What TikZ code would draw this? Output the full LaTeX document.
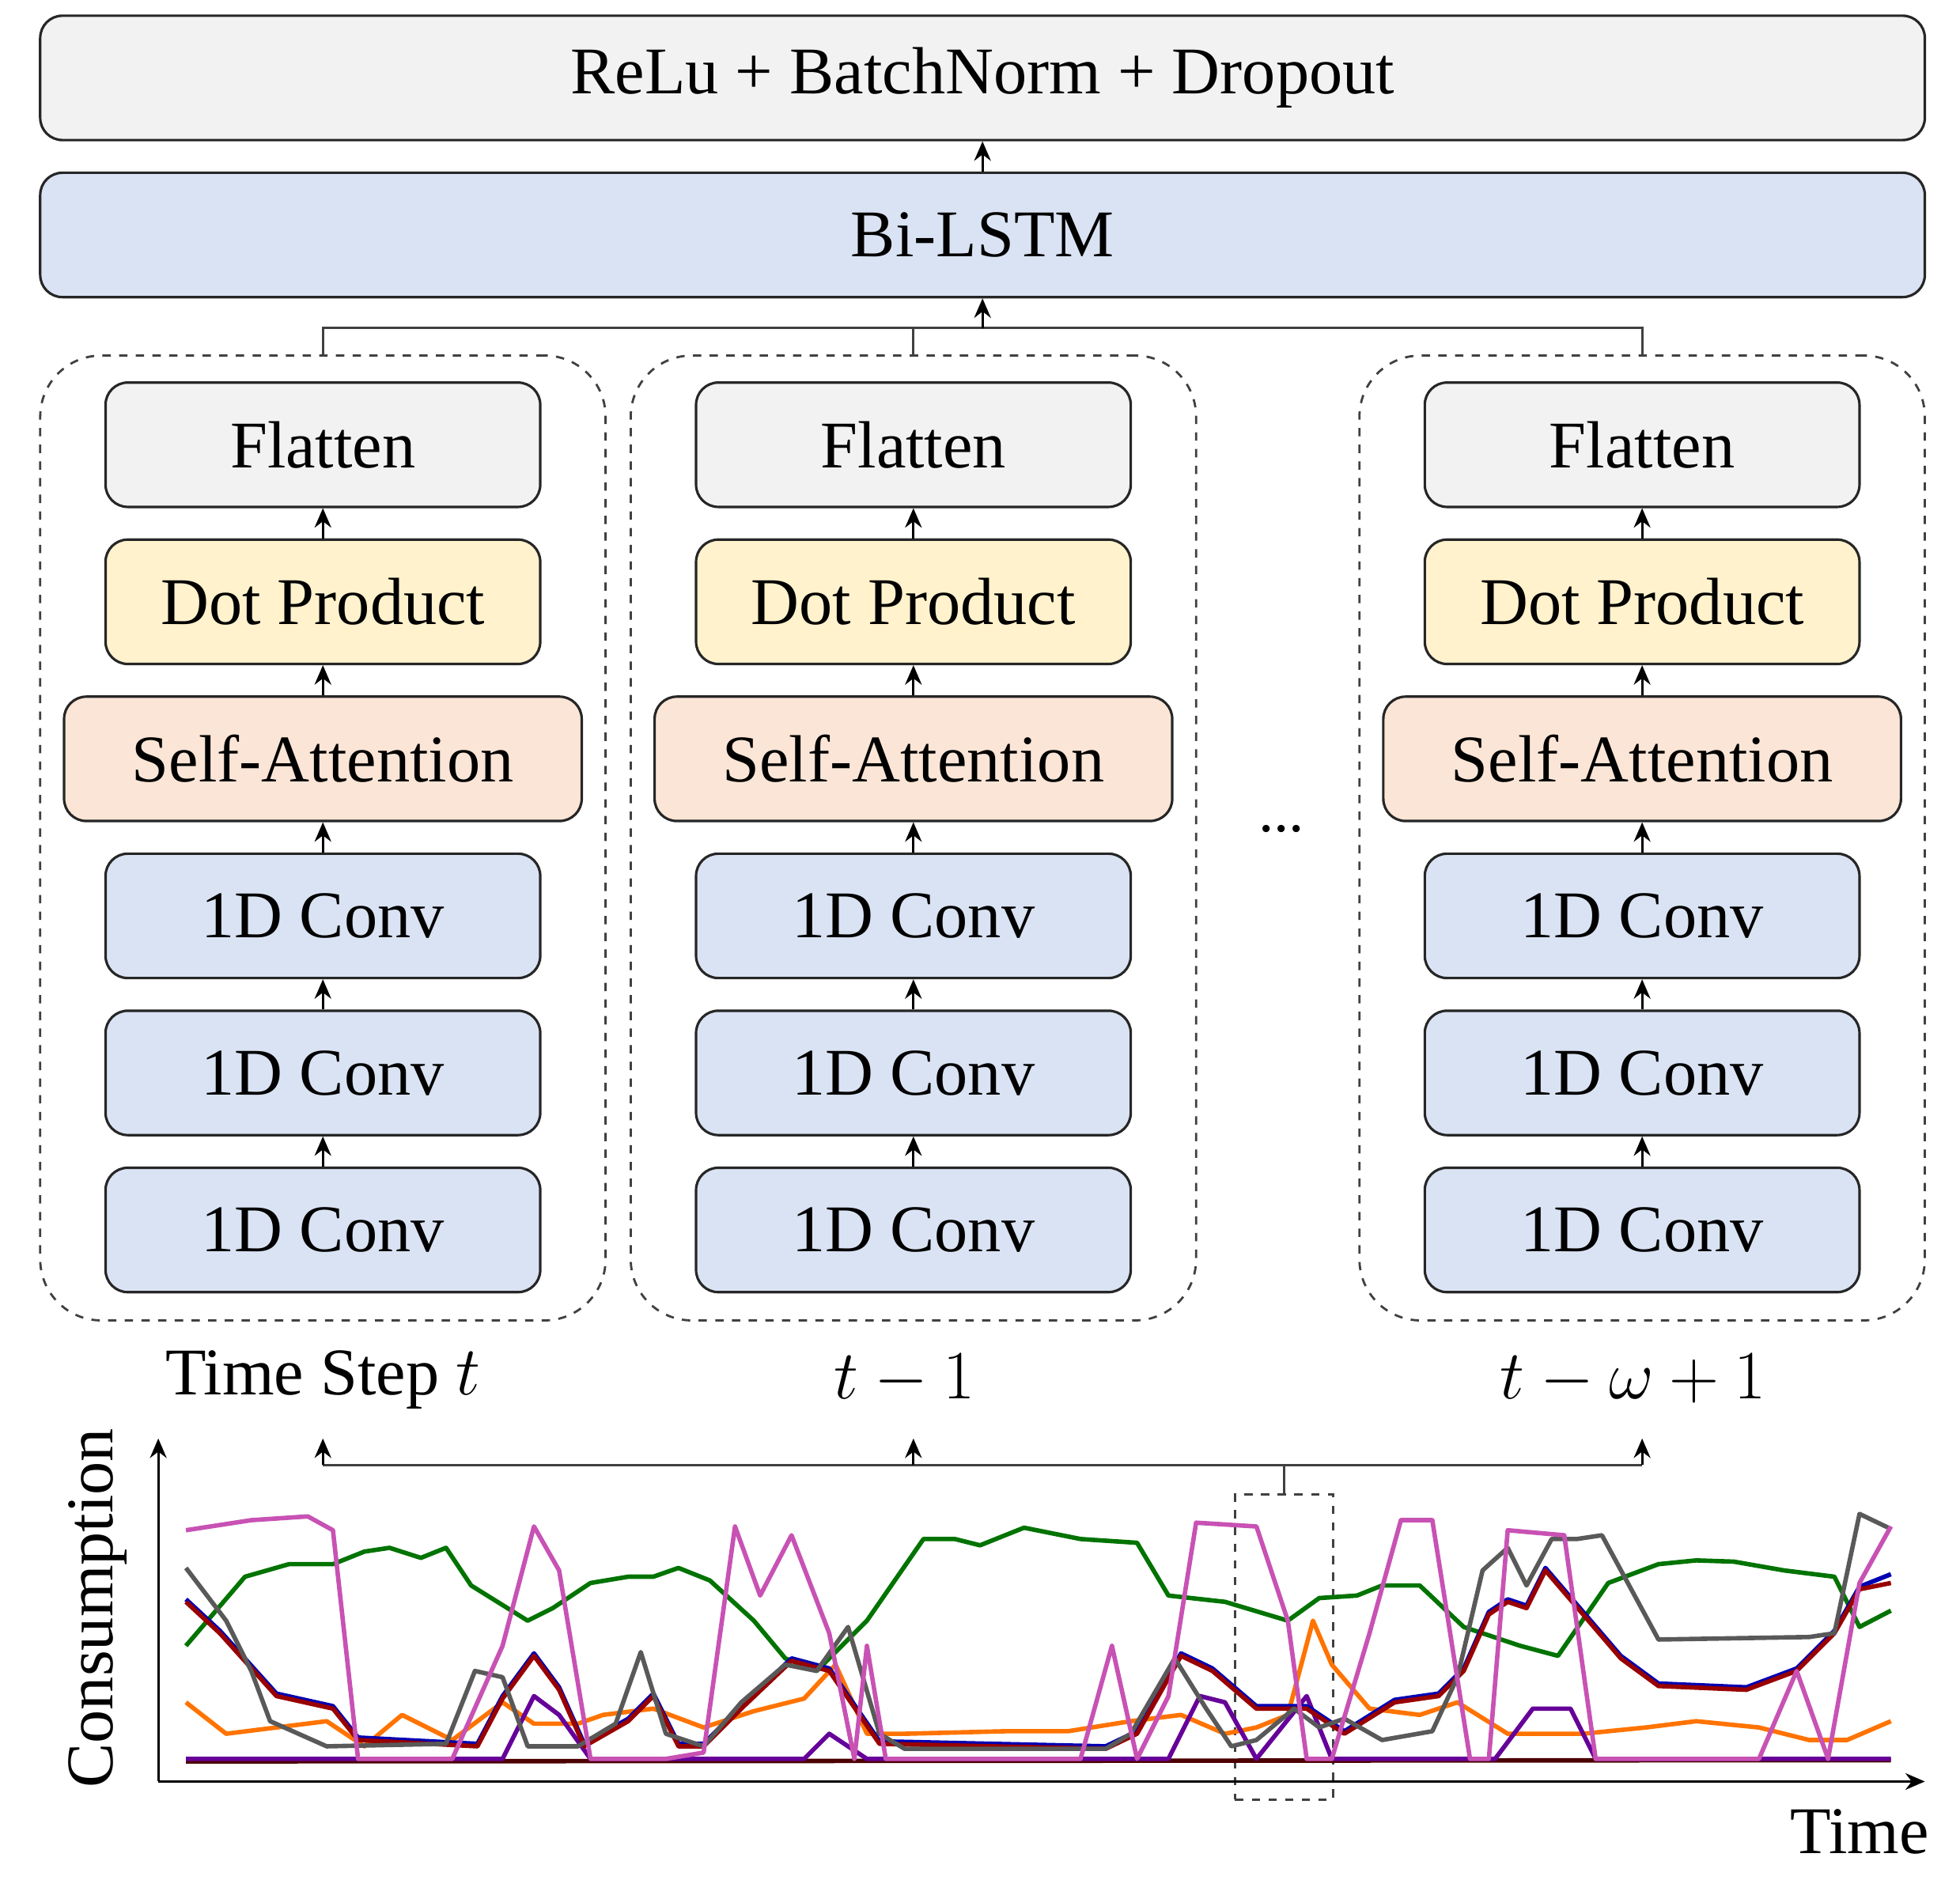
\documentclass[tikz,border=0pt]{standalone}
\usepackage{fontspec}
\setmainfont{Liberation Serif}
\usetikzlibrary{arrows.meta}
\begin{document}
\begin{tikzpicture}[x=0.01588cm,y=-0.01588cm,
  box/.style={draw=black!85,line width=0.9pt,rounded corners=8pt,font=\fontsize{24}{28}\selectfont},
  arr/.style={-{Stealth[length=7pt,width=6pt]},line width=0.8pt},
  ln/.style={line width=0.8pt,draw=black!75},
  grp/.style={draw=black!75,dashed,line width=0.8pt,rounded corners=22pt},
  cl/.style={line width=1.6pt,line join=round}]
\useasboundingbox (0,0) rectangle (1560,1496);
\definecolor{cg}{HTML}{F2F2F2}\definecolor{cy}{HTML}{FFF2CC}
\definecolor{co}{HTML}{FBE5D6}\definecolor{cb}{HTML}{DAE3F3}
\definecolor{mg}{HTML}{C852B4}
\node[box,fill=cg,minimum width={1500*0.01588cm},minimum height={99*0.01588cm}] (top) at (782,62) {ReLu + BatchNorm + Dropout};
\node[box,fill=cb,minimum width={1500*0.01588cm},minimum height={99*0.01588cm}] (lstm) at (782,187) {Bi-LSTM};
\draw[arr] (lstm.north) -- (top.south);
\foreach \n/\cx in {a/257,b/727,c/1307}{
  \node[grp,minimum width={450*0.01588cm},minimum height={768*0.01588cm}] (g\n) at (\cx,667) {};
  \node[box,fill=cg,minimum width={346*0.01588cm},minimum height={99*0.01588cm}] (f\n) at (\cx,354) {Flatten};
  \node[box,fill=cy,minimum width={346*0.01588cm},minimum height={99*0.01588cm}] (d\n) at (\cx,479) {Dot Product};
  \node[box,fill=co,minimum width={412*0.01588cm},minimum height={99*0.01588cm}] (s\n) at (\cx,604) {Self-Attention};
  \node[box,fill=cb,minimum width={346*0.01588cm},minimum height={99*0.01588cm}] (ca\n) at (\cx,729) {1D Conv};
  \node[box,fill=cb,minimum width={346*0.01588cm},minimum height={99*0.01588cm}] (cb\n) at (\cx,854) {1D Conv};
  \node[box,fill=cb,minimum width={346*0.01588cm},minimum height={99*0.01588cm}] (cc\n) at (\cx,979) {1D Conv};
  \draw[arr] (cc\n) -- (cb\n); \draw[arr] (cb\n) -- (ca\n); \draw[arr] (ca\n) -- (s\n);
  \draw[arr] (s\n) -- (d\n); \draw[arr] (d\n) -- (f\n);
  \coordinate (u\n) at (\cx,1145);
}
\coordinate (j) at (782,261);
\draw[ln] (ga.north) -- (257,261) -- (1307,261) -- (gc.north);
\draw[ln] (gb.north) -- (727,261);
\draw[arr] (j) -- (lstm.south);
\node[font=\fontsize{22}{26}\selectfont] (dots) at (1020,660) {...};
\node[font=\fontsize{24}{28}\selectfont] (la) at (257,1098) {Time Step $t$};
\node[font=\fontsize{24}{28}\selectfont] (lb) at (720,1098) {$t-1$};
\node[font=\fontsize{24}{28}\selectfont] (lc) at (1300,1098) {$t-\omega+1$};
% bottom
\coordinate (h1) at (257,1166); \coordinate (h3) at (1307,1166);
\draw[ln] (h1) -- (h3);
\draw[arr] (h1) -- (ua); \draw[arr] (727,1166) -- (ub); \draw[arr] (h3) -- (uc);
\node[draw=black!75,dashed,line width=0.8pt,minimum width={78*0.01588cm},minimum height={243*0.01588cm},inner sep=0] (win) at (1022,1311) {};
\draw[ln] (1022,1166) -- (win.north);
\coordinate (o) at (126,1418);
\coordinate (ye) at (126,1145); \coordinate (xe) at (1532,1418);
\draw[arr] (o) -- (ye); \draw[arr] (o) -- (xe);
\node[rotate=90,font=\fontsize{24}{28}\selectfont] (yl) at (78,1280) {Consumption};
\node[font=\fontsize{24}{28}\selectfont] (xl) at (1480,1458) {Time};
% series
\draw[cl,color=black!70!red] (148,1402) -- (1505,1401);
\draw[cl,color=orange!90!red] plot coordinates {(148,1355)(180,1380)(260,1370)(290,1390)(320,1365)(360,1385)(400,1355)(425,1372)(460,1372)(480,1365)(520,1360)(560,1375)(600,1362)(640,1352)(665,1325)(690,1380)(720,1380)(800,1378)(850,1378)(900,1370)(940,1365)(975,1380)(1000,1375)(1025,1365)(1045,1290)(1060,1325)(1090,1360)(1130,1365)(1160,1355)(1200,1380)(1260,1380)(1310,1375)(1350,1370)(1400,1375)(1440,1385)(1470,1385)(1505,1370)};
\draw[cl,color=violet!80!blue] plot coordinates {(148,1400)(400,1400)(425,1350)(445,1365)(470,1400)(640,1400)(660,1380)(690,1400)(930,1400)(955,1350)(975,1355)(1000,1400)(1040,1350)(1060,1400)(1190,1400)(1220,1360)(1250,1360)(1270,1400)(1505,1400)};
\draw[cl,color=green!45!black] plot coordinates {(148,1310)(195,1255)(230,1245)(265,1245)(290,1235)(310,1232)(335,1240)(355,1232)(375,1262)(420,1290)(440,1280)(470,1260)(500,1255)(520,1255)(540,1248)(565,1258)(600,1290)(625,1320)(650,1330)(690,1290)(735,1225)(760,1225)(780,1230)(815,1216)(860,1225)(905,1228)(930,1270)(975,1275)(1025,1290)(1050,1272)(1080,1270)(1100,1262)(1130,1262)(1165,1295)(1210,1310)(1240,1318)(1280,1260)(1320,1245)(1350,1242)(1380,1243)(1420,1250)(1460,1255)(1480,1295)(1505,1282)};
\draw[cl,color=blue!70!black,shift={(0,-2)}] plot coordinates {(148,1275)(175,1300)(220,1350)(265,1360)(285,1385)(380,1390)(400,1352)(425,1318)(445,1345)(465,1390)(500,1370)(520,1350)(540,1390)(560,1390)(590,1360)(630,1322)(660,1330)(700,1388)(880,1392)(905,1380)(940,1318)(965,1330)(1000,1360)(1040,1360)(1070,1380)(1110,1355)(1145,1350)(1165,1330)(1185,1285)(1200,1275)(1215,1280)(1230,1250)(1260,1285)(1290,1320)(1320,1342)(1390,1345)(1430,1330)(1460,1300)(1480,1265)(1505,1255)};
\draw[cl,color=red!60!black] plot coordinates {(148,1275)(175,1300)(220,1350)(265,1360)(285,1385)(380,1390)(400,1352)(425,1318)(445,1345)(465,1390)(500,1370)(520,1350)(540,1390)(560,1390)(590,1360)(630,1322)(660,1330)(700,1388)(880,1392)(905,1380)(940,1318)(965,1330)(1000,1360)(1040,1360)(1070,1380)(1110,1355)(1145,1350)(1165,1330)(1185,1285)(1200,1275)(1215,1280)(1230,1250)(1260,1285)(1290,1320)(1320,1342)(1390,1345)(1430,1330)(1460,1300)(1480,1265)(1505,1260)};
\draw[cl,color=black!65] plot coordinates {(148,1248)(180,1290)(200,1330)(215,1370)(260,1390)(355,1388)(378,1330)(400,1335)(420,1390)(460,1390)(490,1372)(510,1315)(530,1380)(560,1390)(590,1355)(625,1325)(650,1330)(675,1295)(700,1380)(720,1392)(880,1392)(900,1380)(935,1320)(960,1360)(980,1390)(1000,1385)(1030,1360)(1050,1375)(1070,1368)(1100,1385)(1140,1378)(1160,1335)(1180,1250)(1200,1232)(1215,1262)(1235,1225)(1255,1225)(1275,1222)(1320,1305)(1440,1303)(1460,1300)(1480,1205)(1505,1217)};
\draw[cl,color=mg] plot coordinates {(148,1218)(200,1210)(245,1207)(265,1218)(285,1400)(360,1400)(400,1310)(425,1215)(445,1250)(470,1400)(530,1400)(560,1395)(585,1215)(605,1270)(630,1222)(660,1300)(680,1400)(690,1310)(705,1400)(860,1400)(885,1310)(905,1400)(930,1350)(952,1212)(1000,1215)(1025,1290)(1040,1400)(1060,1400)(1090,1300)(1115,1210)(1140,1210)(1170,1400)(1185,1400)(1200,1218)(1245,1222)(1270,1400)(1400,1400)(1430,1330)(1455,1400)(1480,1260)(1505,1215)};
\end{tikzpicture}
\end{document}
